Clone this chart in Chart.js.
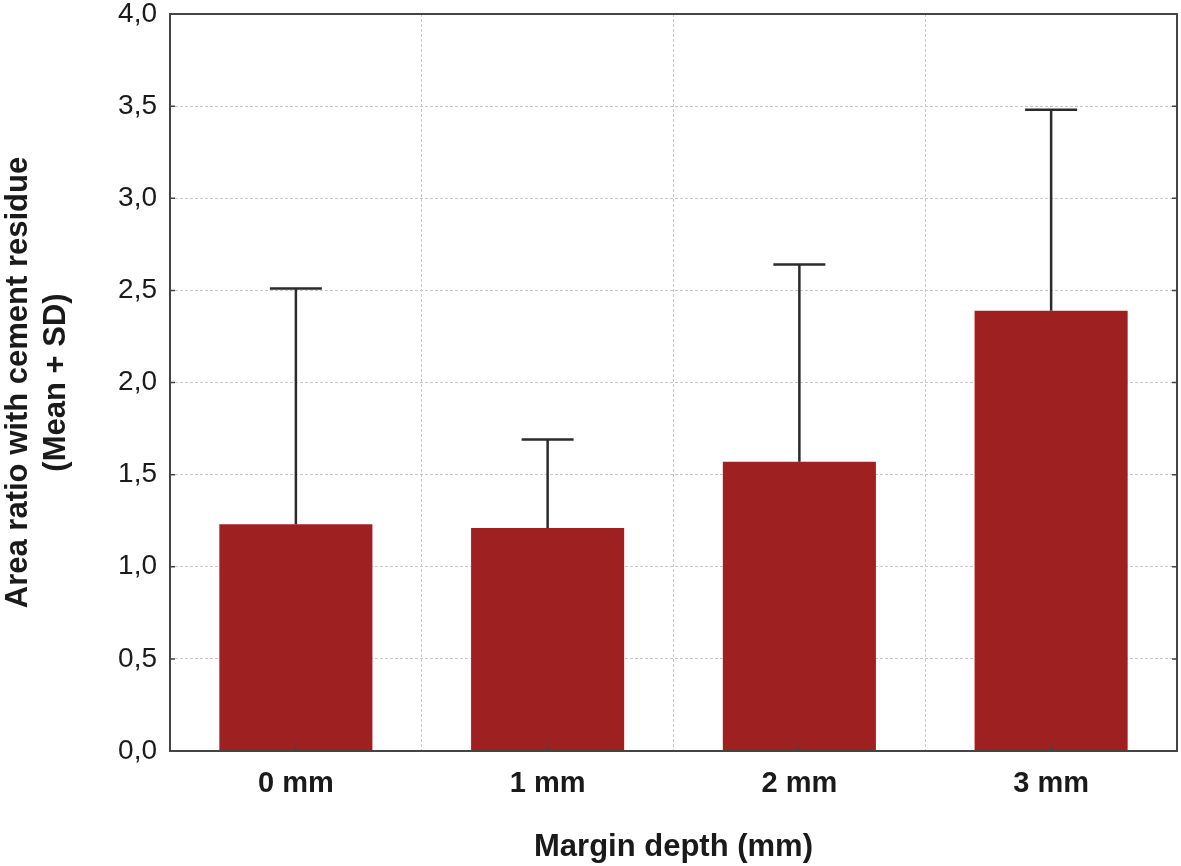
<!DOCTYPE html>
<html>
<head>
<meta charset="utf-8">
<script src="https://cdn.jsdelivr.net/npm/chart.js@4"></script>
<style>
  html, body { margin: 0; padding: 0; background: #fff; }
  #wrap { width: 1181px; height: 866px; }
</style>
</head>
<body>
<div id="wrap"><canvas id="chart"></canvas></div>
<script>
// Datos
const categories = ['0 mm', '1 mm', '2 mm', '3 mm'];
const means = [1.23, 1.21, 1.57, 2.39];
const sds = [1.28, 0.48, 1.07, 1.09];
const yTicks = [0, 0.5, 1, 1.5, 2, 2.5, 3, 3.5, 4];

const FONT = '"Liberation Sans", Arial, sans-serif';

// Barras de error (solo hacia arriba) y marco del gráfico
const errorBars = {
    id: 'errorBars',
    afterDatasetsDraw(chart) {
        const ctx = chart.ctx;
        const meta = chart.getDatasetMeta(0);
        const y = chart.scales.y;
        ctx.save();
        ctx.strokeStyle = '#2b2b2b';
        ctx.lineWidth = 2.5;
        meta.data.forEach((bar, i) => {
            const top = y.getPixelForValue(means[i] + sds[i]);
            ctx.beginPath();
            ctx.moveTo(bar.x, bar.y);
            ctx.lineTo(bar.x, top);
            ctx.moveTo(bar.x - 26, top);
            ctx.lineTo(bar.x + 26, top);
            ctx.stroke();
        });
        ctx.restore();
    },
    afterDraw(chart) {
        const ctx = chart.ctx;
        const a = chart.chartArea;
        const y = chart.scales.y;
        const x = chart.scales.x;
        ctx.save();
        ctx.strokeStyle = '#444';
        ctx.lineWidth = 2;
        ctx.strokeRect(a.left, a.top, a.right - a.left, a.bottom - a.top);
        // marcas hacia dentro
        ctx.lineWidth = 1.5;
        ctx.beginPath();
        yTicks.forEach(v => {
            const py = y.getPixelForValue(v);
            ctx.moveTo(a.left, py); ctx.lineTo(a.left + 5, py);
            ctx.moveTo(a.right, py); ctx.lineTo(a.right - 5, py);
        });
        categories.forEach((c, i) => {
            const px = x.getPixelForValue(i);
            ctx.moveTo(px, a.bottom); ctx.lineTo(px, a.bottom - 5);
        });
        ctx.stroke();
        ctx.restore();
    }
};

new Chart(document.getElementById('chart'), {
    type: 'bar',
    data: {
        labels: categories,
        datasets: [{
            data: means,
            backgroundColor: '#9e2020',
            borderWidth: 0,
            categoryPercentage: 1,
            barPercentage: 0.608
        }]
    },
    options: {
        responsive: true,
        maintainAspectRatio: false,
        animation: false,
        layout: { padding: { top: 14, right: 4, left: 0, bottom: 0 } },
        plugins: {
            legend: { display: false },
            tooltip: { enabled: false }
        },
        scales: {
            x: {
                grid: {
                    offset: true,
                    color: '#c8c8c8',
                    lineWidth: 1,
                    drawTicks: false
                },
                border: { display: false, dash: [3, 2] },
                ticks: {
                    color: '#1a1a1a',
                    font: { family: FONT, size: 29, weight: 'bold' },
                    padding: 16
                },
                title: {
                    display: true,
                    text: 'Margin depth (mm)',
                    color: '#1a1a1a',
                    font: { family: FONT, size: 31, weight: 'bold' },
                    padding: { top: 30, bottom: 0 }
                },
                afterFit(scale) { scale.height = 115; }
            },
            y: {
                min: 0,
                max: 4,
                afterBuildTicks(scale) {
                    scale.ticks = yTicks.map(v => ({ value: v }));
                },
                grid: {
                    color: '#c8c8c8',
                    lineWidth: 1,
                    drawTicks: false
                },
                border: { display: false, dash: [3, 2] },
                ticks: {
                    color: '#1a1a1a',
                    font: { family: FONT, size: 28 },
                    padding: 13,
                    callback: v => v.toFixed(1).replace('.', ',')
                },
                title: {
                    display: true,
                    text: ['Area ratio with cement residue', '(Mean + SD)'],
                    color: '#1a1a1a',
                    font: { family: FONT, size: 31, weight: 'bold', lineHeight: 1.22 },
                    padding: { top: 0, bottom: 10 }
                },
                afterFit(scale) {
                    scale.width = 170;
                    scale.paddingTop = 0;
                    scale.paddingBottom = 0;
                }
            }
        }
    },
    plugins: [errorBars]
});
</script>
</body>
</html>
